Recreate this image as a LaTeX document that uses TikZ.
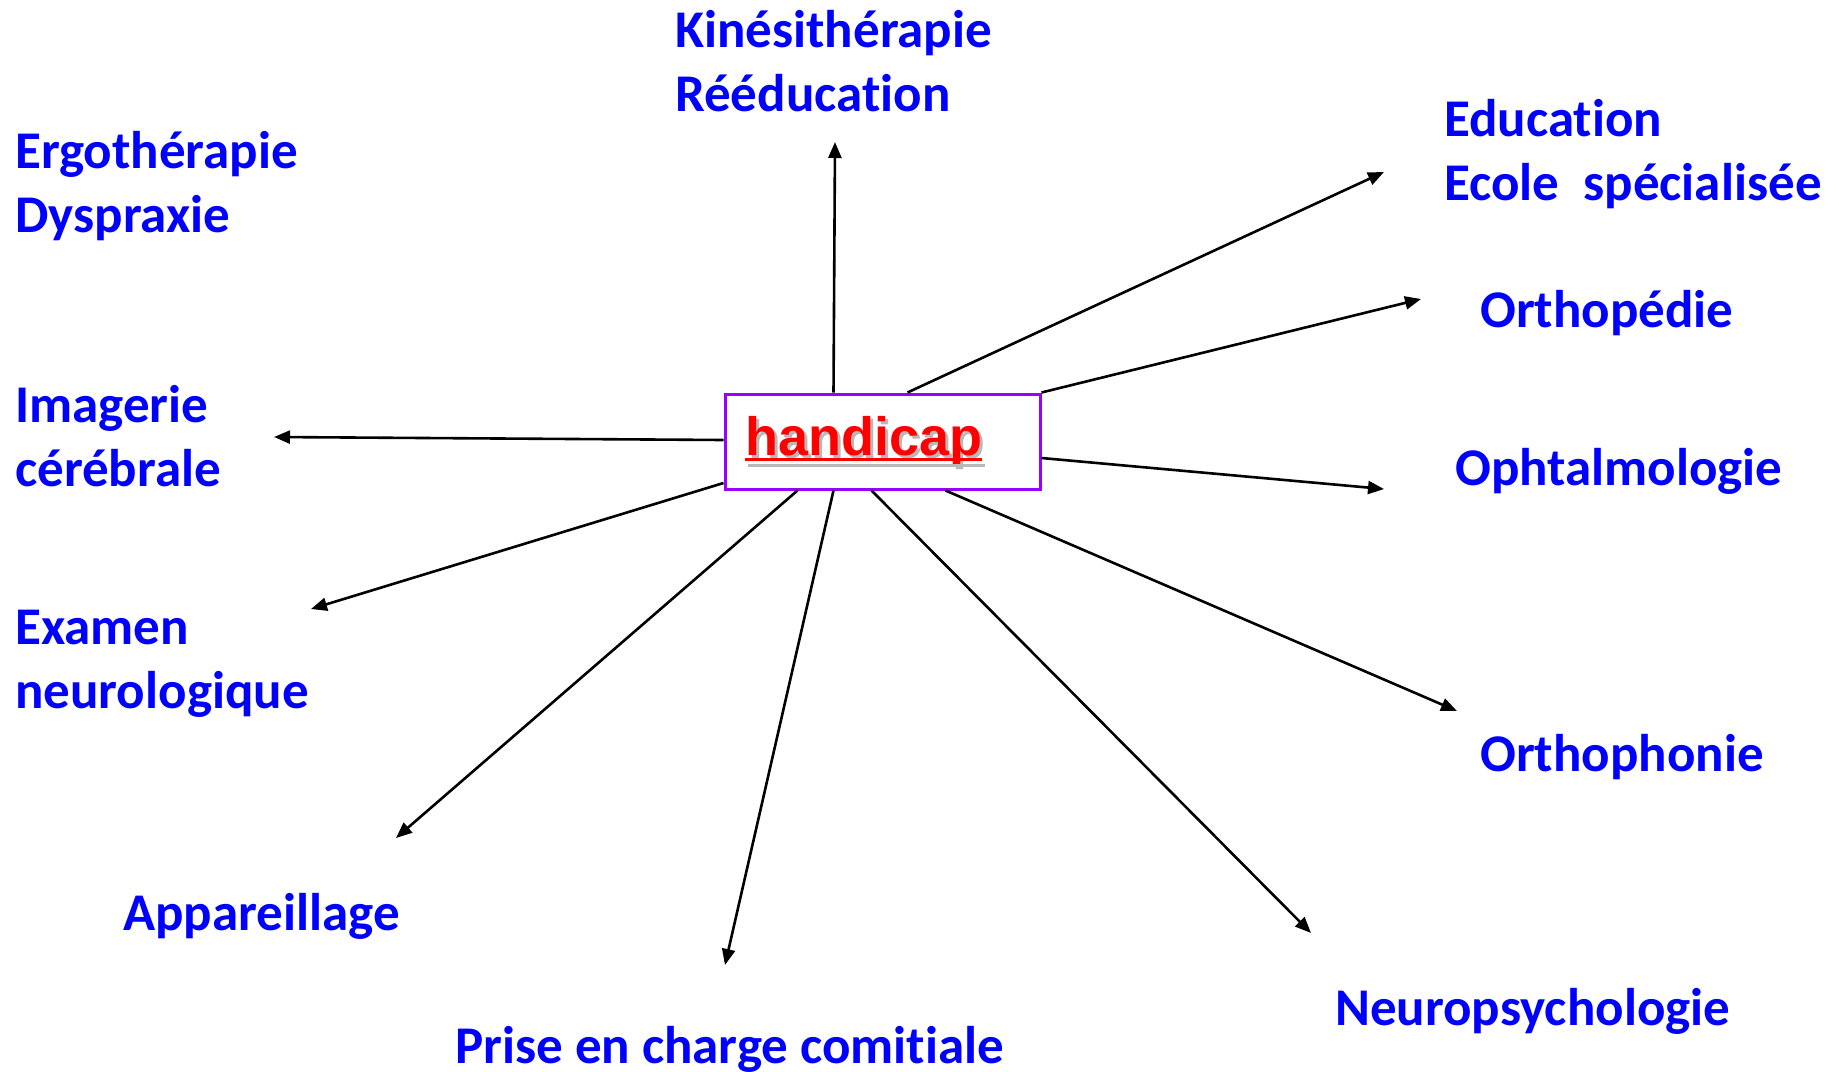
\documentclass[tikz,border=0pt]{standalone}
\usepackage{fontspec}
\newfontfamily\labelfont{Carlito}[Ligatures=NoCommon, RawFeature=-liga]
\newfontfamily\boxfont{Liberation Sans}
\usetikzlibrary{arrows.meta}
\definecolor{lblue}{RGB}{0,0,255}
\definecolor{boxviolet}{RGB}{153,0,255}
\definecolor{hred}{RGB}{255,0,0}
\tikzset{
  lbl/.style={anchor=base west, inner sep=0pt, align=left, text=lblue,
    font=\labelfont\bfseries\fontsize{53}{64}\selectfont},
  arr/.style={line width=2.6pt, -{Triangle[length=16pt,width=13pt]}},
  hubbox/.style={draw=boxviolet, line width=3pt, fill=white,
    minimum width=315pt, minimum height=95pt, inner sep=0pt},
}
\begin{document}
\begin{tikzpicture}[x=1pt,y=-1pt]
\useasboundingbox (0,0) rectangle (1839,1071);

% central box with shadowed, underlined title
\node[hubbox] (box) at (882.5,441.5) {};
\node[anchor=base west, inner sep=0pt, text=gray!55,
  font=\boxfont\bfseries\fontsize{54}{60}\selectfont] (hcs) at (748,458) {handicap};
\node[anchor=base west, inner sep=0pt, text=hred,
  font=\boxfont\bfseries\fontsize{54}{60}\selectfont] (hc) at (745,455) {handicap};
\draw[gray!55, line width=3pt] ([yshift=-7pt]hcs.base west) -- ([yshift=-7pt]hcs.base east);
\draw[hred, line width=3pt] ([yshift=-4.5pt]hc.base west) -- ([yshift=-4.5pt]hc.base east);

% labels (anchored on the baseline of their last line)
\node[lbl] (kine) at (675,111) {Kinésithérapie\\Rééducation};
\node[lbl] (ergo) at (15,232) {Ergothérapie\\Dyspraxie};
\node[lbl] (edu) at (1444,200) {Education\\Ecole\ \ spécialisée};
\node[lbl] (ortho) at (1480,327) {Orthopédie};
\node[lbl] (imag) at (15,486) {Imagerie\\cérébrale};
\node[lbl] (ophta) at (1455,485) {Ophtalmologie};
\node[lbl] (exam) at (15,708) {Examen\\neurologique};
\node[lbl] (orthoph) at (1480,771) {Orthophonie};
\node[lbl] (appar) at (123,930) {Appareillage};
\node[lbl] (neuro) at (1335,1025) {Neuropsychologie};
\node[lbl] (prise) at (455,1063) {Prise en charge comitiale};

% arrow tips
\coordinate (tkine) at (835,142);
\coordinate (tedu) at (1384,172);
\coordinate (tortho) at (1421,299);
\coordinate (tophta) at (1384,489);
\coordinate (torthoph) at (1457,711);
\coordinate (tneuro) at (1311,933);
\coordinate (tprise) at (725,965);
\coordinate (tappar) at (396,838);
\coordinate (texam) at (311,609);
\coordinate (timag) at (274,437);

% connectors
\draw[arr] ([xshift=110pt]box.north west) -- (tkine);
\draw[arr] ([xshift=184pt]box.north west) -- (tedu);
\draw[arr] (box.north east) -- (tortho);
\draw[arr] ([yshift=-16.5pt]box.east) -- (tophta);
\draw[arr] ([xshift=222pt]box.south west) -- (torthoph);
\draw[arr] ([xshift=148pt]box.south west) -- (tneuro);
\draw[arr] ([xshift=110pt]box.south west) -- (tprise);
\draw[arr] ([xshift=74pt]box.south west) -- (tappar);
\draw[arr] ([yshift=-41.5pt]box.west) -- (texam);
\draw[arr] ([yshift=1.5pt]box.west) -- (timag);
\end{tikzpicture}
\end{document}
